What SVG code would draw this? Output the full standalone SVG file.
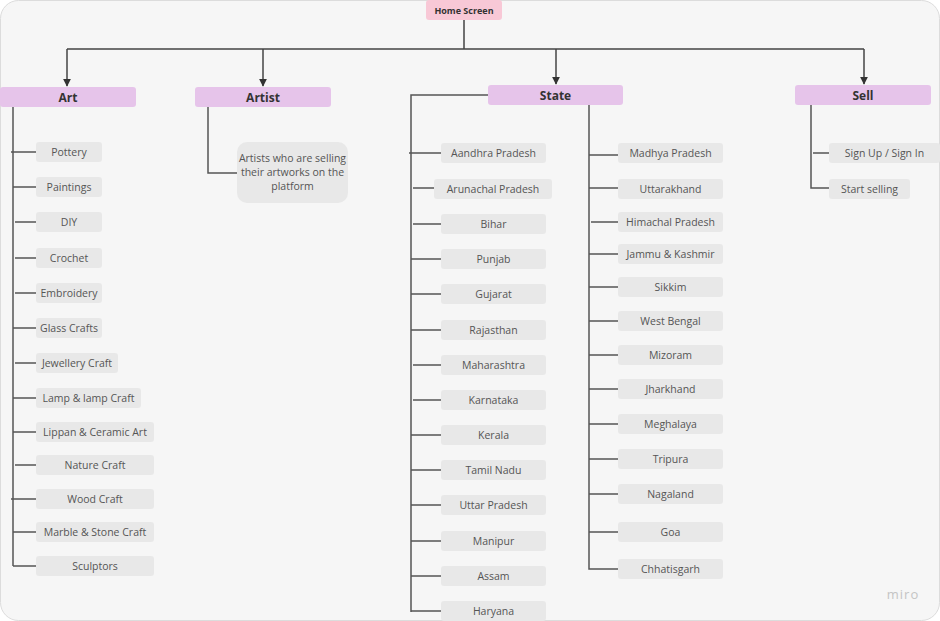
<svg xmlns="http://www.w3.org/2000/svg" width="940" height="621" viewBox="0 0 940 621">
<defs>
<marker id="arr" viewBox="0 0 10 10" refX="9" refY="5" markerWidth="8" markerHeight="8" markerUnits="userSpaceOnUse" orient="auto"><path d="M0,0 L10,5 L0,10 z" fill="#333"/></marker>
<style>
.bg{fill:#f6f6f6;stroke:#dcdcdc;stroke-width:1}
.con{fill:none;stroke:#555;stroke-width:1.5}
.top{fill:none;stroke:#444;stroke-width:1.5}
.cat rect{fill:#e6c4ea}
.cat text{font-family:"Open Sans","Noto Sans",sans-serif;font-size:12px;font-weight:bold;fill:#333;text-anchor:middle}
.item rect{fill:#e8e8e8}
.item text{font-family:"Open Sans","Noto Sans",sans-serif;font-size:10.5px;fill:#555;text-anchor:middle}
</style>
</defs>
<rect width="940" height="621" fill="#ffffff"/>
<rect class="bg" x="0.5" y="0.5" width="939" height="620" rx="18"/>
<text x="903" y="599" font-family="Open Sans,Noto Sans,sans-serif" font-size="13" fill="#c4c4c4" text-anchor="middle" letter-spacing="1">miro</text>

<g id="connectors">
<path class="top" d="M464,20 V49 M67,49 H864"/>
<path class="top" d="M67,49 V86" marker-end="url(#arr)"/>
<path class="top" d="M263,49 V86" marker-end="url(#arr)"/>
<path class="top" d="M556,49 V84" marker-end="url(#arr)"/>
<path class="top" d="M864,49 V84" marker-end="url(#arr)"/>
<path class="con" d="M13,107 V566 M11,152 H36 M13,187 H36 M15,222 H36 M15,258 H36 M15,293 H36 M13,328 H36 M15,363 H36 M13,398 H36 M13,432 H36 M15,465 H36 M11,499 H36 M13,532 H36 M13,566 H36"/>
<path class="con" d="M208,107 V173 H237"/>
<path class="con" d="M488,95 H411 V612 M409,153 H441 M413,188 H434 M413,224 H441 M411,259 H441 M411,294 H441 M411,330 H441 M413,365 H441 M413,400 H441 M411,435 H441 M411,470 H441 M411,505 H441 M411,541 H441 M411,576 H441 M411,611 H441"/>
<path class="con" d="M589,105 V569 H618 M589,155 H618 M589,188 H618 M591,222 H618 M589,254 H618 M589,287 H618 M589,321 H618 M589,355 H618 M589,389 H618 M589,424 H618 M589,459 H618 M589,494 H618 M589,532 H618"/>
<path class="con" d="M811,105 V188 H829 M813,153 H829"/>
</g>

<g id="home"><rect x="426" y="0" width="76" height="20" rx="3" fill="#f8c8d6"/><text x="464" y="13.5" font-family="Open Sans,Noto Sans,sans-serif" font-size="9" font-weight="bold" fill="#333" text-anchor="middle">Home Screen</text></g>

<g id="art" class="cat"><rect x="0" y="87" width="136" height="20" rx="3"/><text x="68" y="101.5">Art</text></g>
<g id="artist" class="cat"><rect x="195" y="87" width="136" height="20" rx="3"/><text x="263" y="101.5">Artist</text></g>
<g id="state" class="cat"><rect x="488" y="85" width="135" height="20" rx="3"/><text x="555.5" y="99.5">State</text></g>
<g id="sell" class="cat"><rect x="795" y="85" width="136" height="20" rx="3"/><text x="863" y="99.5">Sell</text></g>

<g id="artist-desc" class="item"><rect x="237" y="142" width="111" height="61" rx="10"/><text x="292.5" y="162">Artists who are selling</text><text x="292.5" y="176">their artworks on the</text><text x="292.5" y="190">platform</text></g>

<g id="pottery" class="item"><rect x="36" y="142" width="66" height="20" rx="3"/><text x="69" y="155.5">Pottery</text></g>
<g id="paintings" class="item"><rect x="36" y="177" width="66" height="20" rx="3"/><text x="69" y="190.5">Paintings</text></g>
<g id="diy" class="item"><rect x="36" y="212" width="66" height="20" rx="3"/><text x="69" y="225.5">DIY</text></g>
<g id="crochet" class="item"><rect x="36" y="248" width="66" height="20" rx="3"/><text x="69" y="261.5">Crochet</text></g>
<g id="embroidery" class="item"><rect x="36" y="283" width="66" height="20" rx="3"/><text x="69" y="296.5">Embroidery</text></g>
<g id="glass" class="item"><rect x="36" y="318" width="66" height="20" rx="3"/><text x="69" y="331.5">Glass Crafts</text></g>
<g id="jewellery" class="item"><rect x="36" y="353" width="82" height="20" rx="3"/><text x="77" y="366.5">Jewellery Craft</text></g>
<g id="lamp" class="item"><rect x="36" y="388" width="105" height="20" rx="3"/><text x="88.5" y="401.5">Lamp &amp; lamp Craft</text></g>
<g id="lippan" class="item"><rect x="36" y="422" width="118" height="20" rx="3"/><text x="95" y="435.5">Lippan &amp; Ceramic Art</text></g>
<g id="nature" class="item"><rect x="36" y="455" width="118" height="20" rx="3"/><text x="95" y="468.5">Nature Craft</text></g>
<g id="wood" class="item"><rect x="36" y="489" width="118" height="20" rx="3"/><text x="95" y="502.5">Wood Craft</text></g>
<g id="marble" class="item"><rect x="36" y="522" width="118" height="20" rx="3"/><text x="95" y="535.5">Marble &amp; Stone Craft</text></g>
<g id="sculptors" class="item"><rect x="36" y="556" width="118" height="20" rx="3"/><text x="95" y="569.5">Sculptors</text></g>

<g id="aandhra" class="item"><rect x="441" y="143" width="105" height="20" rx="3"/><text x="493.5" y="156.5">Aandhra Pradesh</text></g>
<g id="arunachal" class="item"><rect x="434" y="179" width="118" height="20" rx="3"/><text x="493" y="192.5">Arunachal Pradesh</text></g>
<g id="bihar" class="item"><rect x="441" y="214" width="105" height="20" rx="3"/><text x="493.5" y="227.5">Bihar</text></g>
<g id="punjab" class="item"><rect x="441" y="249" width="105" height="20" rx="3"/><text x="493.5" y="262.5">Punjab</text></g>
<g id="gujarat" class="item"><rect x="441" y="284" width="105" height="20" rx="3"/><text x="493.5" y="297.5">Gujarat</text></g>
<g id="rajasthan" class="item"><rect x="441" y="320" width="105" height="20" rx="3"/><text x="493.5" y="333.5">Rajasthan</text></g>
<g id="maharashtra" class="item"><rect x="441" y="355" width="105" height="20" rx="3"/><text x="493.5" y="368.5">Maharashtra</text></g>
<g id="karnataka" class="item"><rect x="441" y="390" width="105" height="20" rx="3"/><text x="493.5" y="403.5">Karnataka</text></g>
<g id="kerala" class="item"><rect x="441" y="425" width="105" height="20" rx="3"/><text x="493.5" y="438.5">Kerala</text></g>
<g id="tamilnadu" class="item"><rect x="441" y="460" width="105" height="20" rx="3"/><text x="493.5" y="473.5">Tamil Nadu</text></g>
<g id="uttarpradesh" class="item"><rect x="441" y="495" width="105" height="20" rx="3"/><text x="493.5" y="508.5">Uttar Pradesh</text></g>
<g id="manipur" class="item"><rect x="441" y="531" width="105" height="20" rx="3"/><text x="493.5" y="544.5">Manipur</text></g>
<g id="assam" class="item"><rect x="441" y="566" width="105" height="20" rx="3"/><text x="493.5" y="579.5">Assam</text></g>
<g id="haryana" class="item"><rect x="441" y="601" width="105" height="20" rx="3"/><text x="493.5" y="614.5">Haryana</text></g>

<g id="madhya" class="item"><rect x="618" y="143" width="105" height="20" rx="3"/><text x="670.5" y="156.5">Madhya Pradesh</text></g>
<g id="uttarakhand" class="item"><rect x="618" y="179" width="105" height="20" rx="3"/><text x="670.5" y="192.5">Uttarakhand</text></g>
<g id="himachal" class="item"><rect x="618" y="212" width="105" height="20" rx="3"/><text x="670.5" y="225.5">Himachal Pradesh</text></g>
<g id="jammu" class="item"><rect x="618" y="244" width="105" height="20" rx="3"/><text x="670.5" y="257.5">Jammu &amp; Kashmir</text></g>
<g id="sikkim" class="item"><rect x="618" y="277" width="105" height="20" rx="3"/><text x="670.5" y="290.5">Sikkim</text></g>
<g id="westbengal" class="item"><rect x="618" y="311" width="105" height="20" rx="3"/><text x="670.5" y="324.5">West Bengal</text></g>
<g id="mizoram" class="item"><rect x="618" y="345" width="105" height="20" rx="3"/><text x="670.5" y="358.5">Mizoram</text></g>
<g id="jharkhand" class="item"><rect x="618" y="379" width="105" height="20" rx="3"/><text x="670.5" y="392.5">Jharkhand</text></g>
<g id="meghalaya" class="item"><rect x="618" y="414" width="105" height="20" rx="3"/><text x="670.5" y="427.5">Meghalaya</text></g>
<g id="tripura" class="item"><rect x="618" y="449" width="105" height="20" rx="3"/><text x="670.5" y="462.5">Tripura</text></g>
<g id="nagaland" class="item"><rect x="618" y="484" width="105" height="20" rx="3"/><text x="670.5" y="497.5">Nagaland</text></g>
<g id="goa" class="item"><rect x="618" y="522" width="105" height="20" rx="3"/><text x="670.5" y="535.5">Goa</text></g>
<g id="chhatisgarh" class="item"><rect x="618" y="559" width="105" height="20" rx="3"/><text x="670.5" y="572.5">Chhatisgarh</text></g>

<g id="signup" class="item"><rect x="829" y="143" width="111" height="20" rx="3"/><text x="884.5" y="156.5">Sign Up / Sign In</text></g>
<g id="startselling" class="item"><rect x="829" y="179" width="81" height="20" rx="3"/><text x="869.5" y="192.5">Start selling</text></g>
</svg>
